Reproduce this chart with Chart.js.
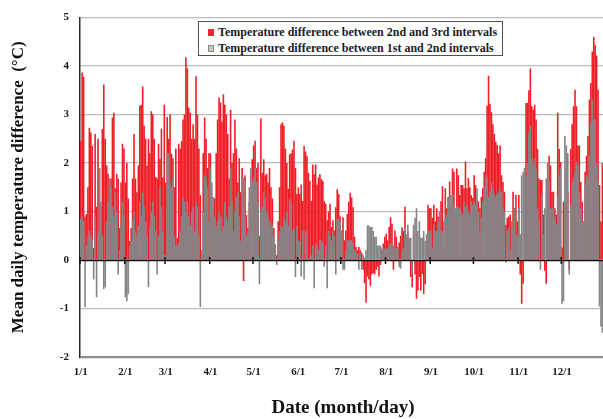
<!DOCTYPE html>
<html>
<head>
<meta charset="utf-8">
<script src="https://cdn.jsdelivr.net/npm/chart.js@4.4.0/dist/chart.umd.min.js"></script>
<style>
html,body{margin:0;padding:0;background:#fff;overflow:hidden;width:603px;height:419px;}
#wrap{position:relative;width:606px;height:419px;}
#legend{position:absolute;left:198px;top:21px;width:303px;height:33px;border:1.5px solid #505050;background:#fff;
  font:bold 12px "Liberation Serif","Times New Roman",serif;color:#1c1c28;}
.row{position:absolute;left:9px;white-space:nowrap;line-height:14px;}
.sw{display:inline-block;width:6px;height:7px;margin-right:4px;vertical-align:0px;box-sizing:border-box;}
</style>
</head>
<body>
<div id="wrap">
<canvas id="c" width="606" height="419"></canvas>
<div id="legend">
  <div class="row" style="top:3px"><span class="sw" style="background:#e8242a"></span>Temperature difference between 2nd and 3rd intervals</div>
  <div class="row" style="top:19px"><span class="sw" style="background:#c8c8c0;border:1px solid #8a8a84"></span>Temperature difference between 1st and 2nd intervals</div>
</div>
</div>
<script>
// ---- data ----
const seriesNames = ['Temperature difference between 2nd and 3rd intervals',
                     'Temperature difference between 1st and 2nd intervals'];
const monthLabels = ['1/1','2/1','3/1','4/1','5/1','6/1','7/1','8/1','9/1','10/1','11/1','12/1'];
const monthDays = [31,28,31,30,31,30,31,31,30,31,30,31];
const yTicks = [-2,-1,0,1,2,3,4,5];

// Temperature difference between 2nd and 3rd intervals (red)
const redJan = [2.46,3.87,3.78,0.9,0.95,1.5,2.73,2.63,2.35,0.25,2.6,1.1,2.5,1.9,1.1,2.7,3.62,2.5,1.95,1.78,1.47,1.68,2.94,3.04,1.48,1.78,1.68,0.66,1.6,2.4,2.3];
const redFeb = [1.6,2.0,1.27,0.39,0.66,1.68,2.6,1.68,1.4,1.95,3.18,3.2,3.58,2.77,2.5,1.95,2.5,2.2,3.07,3.0,2.5,1.71,1.68,2.4,2.09,2.71,1.7,3.2];
const redMar = [1.6,2.95,2.5,3.0,2.19,2.1,1.5,2.3,0.45,2.4,2.3,2.45,2.9,3.0,4.18,3.95,3.14,3.04,2.5,2.8,2.5,3.79,3.0,2.3,1.34,0.1,2.2,2.94,2.5,1.9,2.2];
const redApr = [2.2,1.07,1.3,1.27,2.2,2.9,3.35,3.25,2.85,3.42,3.2,3.0,2.6,1.68,3.1,2.0,2.2,2.9,2.3,1.6,2.1,1.4,1.9,-0.43,1.75,0.93,0.66,1.2,1.54,2.08];
const redMay = [2.36,2.46,1.9,2.0,0.5,2.92,1.8,2.08,1.75,1.78,1.6,1.9,1.5,1.27,0.66,0.32,0.1,0.8,1.5,2.8,2.84,2.77,2.3,2.0,1.47,2.18,2.2,2.28,2.46,1.9,1.36];
const redJun = [1.5,1.36,1.56,1.22,2.35,2.24,2.14,1.8,1.63,1.22,1.97,1.77,1.97,1.56,1.7,1.77,1.67,1.63,1.22,1.16,0.82,1.0,1.16,0.68,0.82,0.61,1.09,1.46,1.36,0.9];
const redJul = [0.61,0.88,0.41,0.61,0.95,1.2,1.39,1.29,1.09,0.48,0.27,0.2,0.27,0.2,0.15,-0.2,-0.48,-0.88,-0.34,-0.4,-0.54,-0.3,-0.27,-0.3,-0.2,-0.14,-0.34,-0.1,0.2,0.34,0.48];
const redAug = [0.54,0.41,0.68,0.88,0.75,-0.2,0.61,0.48,0.27,0.36,0.5,0.67,0.6,1.1,0.26,0.6,0.4,-0.35,-0.56,0.53,-0.3,-0.8,-0.63,-0.35,-0.63,-0.29,-0.7,-0.5,0.26,1.14,1.07];
const redSep = [1.07,0.87,1.14,0.8,1.07,0.9,0.73,1.21,1.52,0.26,1.48,1.07,1.3,1.62,1.14,1.89,1.82,0.94,1.89,1.75,1.34,1.55,1.55,1.48,2.03,1.48,1.69,1.5,1.34,1.28];
const redOct = [1.75,1.55,1.21,1.21,1.07,1.3,1.48,1.82,2.1,3.18,3.8,3.22,3.05,2.8,2.6,2.44,2.37,2.2,2.36,1.75,1.61,1.41,0.73,0.87,0.9,0.94,0.6,1.41,1.07,1.34,0.8];
const redNov = [1.34,-0.3,-0.9,-0.49,1.82,3.24,3.24,3.5,3.95,3.17,3.1,3.2,2.9,2.29,1.68,1.65,1.65,0.94,-0.22,-0.49,1.34,2.15,1.95,1.41,1.41,1.07,0.94,3.04,2.29,2.02];
const redDec = [0.26,1.2,1.2,1.88,1.41,-0.2,2.29,2.8,3.17,3.51,3.17,2.36,2.36,1.61,1.2,0.8,1.82,2.15,2.56,3.31,3.65,4.3,4.6,4.43,4.22,3.51,1.55,0.8,2.0,1.5,2.0];

// Temperature difference between 1st and 2nd intervals (grey)
const greyJan = [0.85,0.9,0.8,-0.97,0.3,0.45,0.6,0.5,0.4,-0.4,0.9,-0.77,0.6,1.9,1.2,0.5,-0.6,-0.56,0.8,1.2,1.68,1.5,1.1,0.9,1.4,1.0,-0.3,0.2,0.7,1.2,0.9];
const greyFeb = [-0.77,-0.85,-0.7,0.3,0.4,0.8,1.0,0.6,0.5,0.7,1.2,0.9,1.4,1.1,0.8,0.5,-0.56,0.7,1.0,1.2,0.9,0.6,-0.3,0.5,1.5,1.1,0.6,0.1];
const greyMar = [0.1,2.22,2.2,1.6,1.5,1.7,0.5,0.3,0.3,0.35,0.6,0.9,1.3,1.2,1.0,1.2,0.9,0.7,1.0,1.1,0.6,1.2,1.1,0.5,-0.97,0.2,1.0,1.75,1.7,1.5,0.8];
const greyApr = [1.9,1.6,1.3,0.9,0.7,0.8,1.0,0.9,0.6,0.7,1.2,0.9,0.8,1.1,1.9,1.2,0.6,1.0,1.3,1.4,0.9,0.4,1.7,1.7,0.9,0.5,0.6,1.5,1.9,1.6];
const greyMay = [1.7,1.9,1.6,1.2,-0.5,1.0,1.1,1.4,1.3,1.0,0.9,0.8,0.7,0.73,0.5,0.3,-0.1,0.4,0.6,0.7,0.67,0.9,0.8,1.0,0.7,1.26,1.2,0.6,0.65,-0.35,0.7];
const greyJun = [0.4,0.4,-0.34,0.61,-0.4,0.61,0.55,-0.03,0.07,0.1,0.3,-0.58,0.34,0.3,0.2,0.41,0.41,0.35,-0.14,0.3,-0.58,0.6,0.5,0.4,0.6,0.5,-0.3,0.85,0.85,0.8];
const greyJul = [0.6,-0.2,-0.2,0.2,0.41,0.41,0.41,0.41,0.35,0.2,0.14,0.14,-0.2,0.14,-0.2,0.1,0.05,0.2,0.71,0.71,0.68,0.68,0.6,0.48,0.48,0.3,0.3,0.3,0.24,0.24,0.24];
const greyAug = [0.24,0.24,0.3,0.35,0.3,0.3,0.26,0.25,0.26,-0.15,-0.18,0.19,0.26,0.67,0.53,0.73,0.46,0.46,-0.29,0.73,0.87,1.07,0.6,0.8,0.46,0.46,0.6,0.4,0.53,0.6,0.6];
const greySep = [0.6,0.26,0.73,0.6,0.6,0.8,1.0,0.6,0.6,0.8,0.87,0.94,1.28,1.3,1.34,1.34,1.1,1.07,1.1,1.1,1.07,1.0,0.94,1.21,1.1,1.14,1.0,0.94,1.21,1.14];
const greyOct = [1.21,1.14,1.48,1.0,0.6,0.87,1.21,1.5,1.76,1.7,1.3,1.4,1.6,1.5,1.35,1.3,1.35,1.4,1.48,1.41,1.07,1.0,-0.05,0.6,0.66,0.2,0.8,0.66,1.07,0.53,0.5];
const greyNov = [1.07,0.53,1.75,1.82,1.9,1.75,2.0,2.63,2.77,2.1,2.0,2.1,1.88,1.07,0.8,-0.2,1.35,0.53,1.07,1.68,2.0,1.6,1.07,1.07,1.07,0.87,0.73,1.34,1.75,1.9];
const greyDec = [-0.9,-0.85,2.56,2.36,2.2,-0.3,1.14,1.6,1.7,1.82,2.02,1.95,1.41,1.07,0.8,0.8,1.6,1.75,1.68,2.15,2.83,3.31,2.9,2.9,2.0,1.61,-0.96,-1.37,-1.5,-1.27,-1.5];

const redSeries = [].concat(redJan,redFeb,redMar,redApr,redMay,redJun,redJul,redAug,redSep,redOct,redNov,redDec);
const greySeries = [].concat(greyJan,greyFeb,greyMar,greyApr,greyMay,greyJun,greyJul,greyAug,greySep,greyOct,greyNov,greyDec);

// day categories and month start indices
const dayLabels = [];
const monthStart = [];
monthDays.forEach((n, m) => {
  monthStart.push(dayLabels.length);
  for (let d = 1; d <= n; d++) dayLabels.push((m + 1) + '/' + d);
});

const zeroLine = {
  id: 'zeroLine',
  afterDatasetsDraw(chart) {
    const {ctx, chartArea, scales} = chart;
    const y0 = Math.round(scales.y.getPixelForValue(0)) + 0.5;
    const half = (scales.x.getPixelForValue(1) - scales.x.getPixelForValue(0)) / 2;
    ctx.save();
    ctx.strokeStyle = '#111';
    ctx.lineWidth = 1.6;
    ctx.beginPath();
    ctx.moveTo(chartArea.left, y0);
    ctx.lineTo(chartArea.right, y0);
    ctx.stroke();
    ctx.lineWidth = 1.5;
    monthStart.forEach(i => {
      const x = scales.x.getPixelForValue(i) - half;
      ctx.beginPath();
      ctx.moveTo(x, y0 - 3.5);
      ctx.lineTo(x, y0 + 3.5);
      ctx.stroke();
    });
    ctx.restore();
  }
};

const serif = '"Liberation Serif","Times New Roman",serif';

new Chart(document.getElementById('c'), {
  type: 'bar',
  data: {
    labels: dayLabels,
    datasets: [
      {label: seriesNames[0], data: redSeries, backgroundColor: '#ec2026', order: 2,
       grouped: false, barPercentage: 1.12, categoryPercentage: 1, borderWidth: 0},
      {label: seriesNames[1], data: greySeries, backgroundColor: '#858588', order: 1,
       grouped: false, barPercentage: 1.12, categoryPercentage: 1, borderWidth: 0}
    ]
  },
  options: {
    responsive: false,
    animation: false,
    devicePixelRatio: 1,
    layout: {padding: {left: 0, right: 0, top: 14, bottom: 0}},
    plugins: {legend: {display: false}, tooltip: {enabled: false}},
    scales: {
      x: {
        type: 'category',
        grid: {display: false, drawTicks: false},
        border: {display: false},
        ticks: {
          autoSkip: false, maxRotation: 0, minRotation: 0, padding: 9,
          color: '#1a1a1a', font: {family: serif, size: 11, weight: 'bold'},
          callback: (v, i) => {
            const k = monthStart.indexOf(i);
            return k >= 0 ? monthLabels[k] : null;
          }
        },
        title: {display: true, text: 'Date (month/day)', color: '#111',
                font: {family: serif, size: 19, weight: 'bold'}, padding: {top: 0, bottom: 0}},
        afterFit: s => { s.height = 62; }
      },
      y: {
        min: -2, max: 5,
        afterBuildTicks: s => { s.ticks = yTicks.map(v => ({value: v})); },
        grid: {
          drawTicks: false,
          color: c => c.tick.value === 0 ? 'rgba(0,0,0,0)' : (c.tick.value === -2 ? '#8e8e8e' : '#bdbdbd'),
          lineWidth: c => c.tick.value === -2 ? 2.2 : 1.3
        },
        border: {display: true, color: '#2a2a2a', width: 1.5},
        ticks: {padding: 11, color: '#1a1a1a', font: {family: serif, size: 11, weight: 'bold'}},
        title: {display: true, text: 'Mean daily temperature difference  (°C)', color: '#111',
                font: {family: serif, size: 17, weight: 'bold'}, padding: {top: 8, bottom: 0}},
        afterFit: s => { s.width = 80; }
      }
    }
  },
  plugins: [zeroLine]
});
</script>
</body>
</html>
